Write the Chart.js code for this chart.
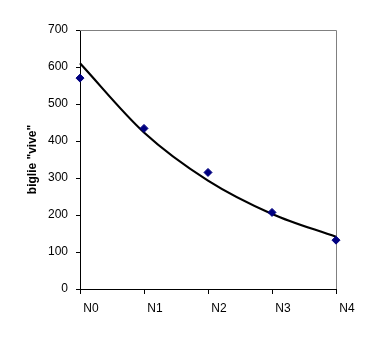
<!DOCTYPE html>
<html>
<head>
<meta charset="utf-8">
<script src="https://cdn.jsdelivr.net/npm/chart.js@4"></script>
<style>
html,body{margin:0;padding:0;background:#fff;}
#wrap{width:377px;height:339px;}
</style>
</head>
<body>
<div id="wrap"><canvas id="c" width="377" height="339"></canvas></div>
<script>
const categories = ["N0", "N1", "N2", "N3", "N4"];
const biglieVive = [570, 434, 315, 207, 132];
const trendLine = [610, 423, 293, 203, 141];
const yTicks = [0, 100, 200, 300, 400, 500, 600, 700];
const yTitle = 'biglie "vive"';

const frame = {
  id: 'frame',
  beforeDatasetsDraw(chart) {
    const {ctx, chartArea: a} = chart;
    ctx.save();
    ctx.strokeStyle = '#808080';
    ctx.lineWidth = 1;
    ctx.beginPath();
    ctx.moveTo(a.left, a.top + 0.5);
    ctx.lineTo(a.right + 0.5, a.top + 0.5);
    ctx.lineTo(a.right + 0.5, a.bottom);
    ctx.stroke();
    ctx.restore();
  }
};

new Chart(document.getElementById('c'), {
  type: 'line',
  data: {
    labels: categories,
    datasets: [
      {
        label: 'trend',
        data: trendLine,
        borderColor: '#000',
        borderWidth: 2.2,
        pointRadius: 0,
        fill: false,
        cubicInterpolationMode: 'monotone',
        order: 2
      },
      {
        label: 'biglie',
        data: biglieVive,
        showLine: false,
        pointStyle: 'rectRot',
        pointRadius: 4,
        pointBackgroundColor: '#000080',
        pointBorderColor: '#000080',
        pointBorderWidth: 1,
        order: 1
      }
    ]
  },
  options: {
    responsive: false,
    animation: false,
    devicePixelRatio: 1,
    layout: {padding: {left: 0, right: 41, top: 30, bottom: 0}},
    plugins: {legend: {display: false}, tooltip: {enabled: false}},
    scales: {
      x: {
        type: 'category',
        offset: false,
        grid: {display: true, drawOnChartArea: false, drawTicks: true, tickLength: 5, color: '#000'},
        border: {color: '#000', width: 1},
        ticks: {color: '#000', font: {family: 'Liberation Sans, Arial', size: 12}, padding: 7, labelOffset: 11, maxRotation: 0},
        afterFit(s) { s.height = 50; }
      },
      y: {
        min: 0, max: 700,
        afterBuildTicks(s) { s.ticks = yTicks.map(v => ({value: v})); },
        grid: {display: true, drawOnChartArea: false, drawTicks: true, tickLength: 4, color: '#000'},
        border: {color: '#000', width: 1},
        ticks: {color: '#000', font: {family: 'Liberation Sans, Arial', size: 12}, padding: 8},
        title: {display: true, text: yTitle, color: '#000', font: {family: 'Liberation Sans, Arial', size: 12, weight: 'bold'}, padding: {top: 25, bottom: 0}},
        afterFit(s) { s.width = 80; }
      }
    }
  },
  plugins: [frame]
});
</script>
</body>
</html>
